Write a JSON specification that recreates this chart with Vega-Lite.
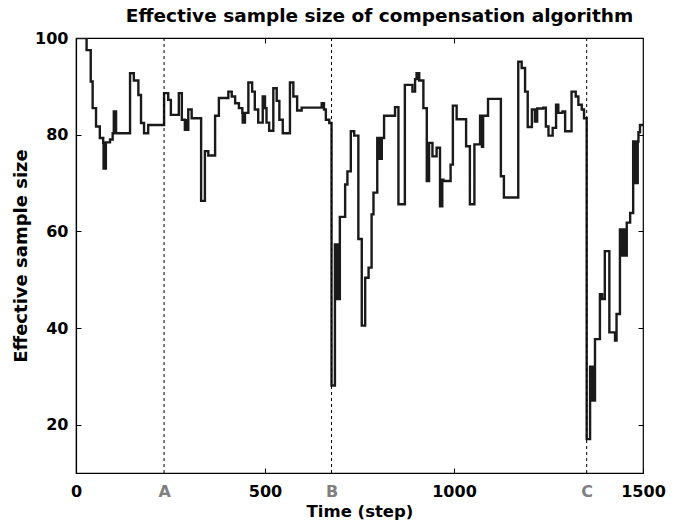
{
  "$schema": "https://vega.github.io/schema/vega-lite/v6.json",
  "width": 567,
  "height": 435,
  "autosize": {"type": "none"},
  "padding": {"left": 76, "top": 38, "right": 40, "bottom": 53},
  "background": "white",
  "config": {
    "view": {"stroke": "black", "strokeWidth": 1.2},
    "font": "DejaVu Sans",
    "axis": {"grid": false, "domainColor": "black", "tickColor": "black", "labelColor": "black", "titleColor": "black"}
  },
  "title": {"text": "Effective sample size of compensation algorithm", "fontSize": 18.5, "fontWeight": "bold", "font": "DejaVu Sans", "offset": 5, "dx": 20, "color": "black"},
  "datasets": {
    "ess": [
      {"t": 0, "v": 100}, {"t": 28, "v": 97.5}, {"t": 39, "v": 91}, {"t": 44, "v": 85.5}, {"t": 53, "v": 81.7},
      {"t": 63, "v": 79.3}, {"t": 72, "v": 78.3}, {"t": 73, "v": 73}, {"t": 74, "v": 78.3}, {"t": 75, "v": 73},
      {"t": 76, "v": 78.3}, {"t": 77, "v": 73}, {"t": 79, "v": 78.4}, {"t": 90, "v": 79}, {"t": 97, "v": 80.3},
      {"t": 100, "v": 84.8}, {"t": 101, "v": 80.3}, {"t": 102, "v": 84.8}, {"t": 103, "v": 80.3}, {"t": 104, "v": 84.8},
      {"t": 106, "v": 80.3}, {"t": 143, "v": 92.7}, {"t": 153, "v": 91.2}, {"t": 165, "v": 88.2}, {"t": 172, "v": 82.4},
      {"t": 180, "v": 80.3}, {"t": 191, "v": 82}, {"t": 233, "v": 88.6}, {"t": 244, "v": 87.2}, {"t": 251, "v": 84.1},
      {"t": 272, "v": 88.6}, {"t": 280, "v": 83.1}, {"t": 288, "v": 81}, {"t": 290, "v": 83}, {"t": 292, "v": 81},
      {"t": 297, "v": 85.2}, {"t": 306, "v": 83.4}, {"t": 331, "v": 66.3}, {"t": 341, "v": 76.6}, {"t": 350, "v": 75.7},
      {"t": 368, "v": 83.9}, {"t": 378, "v": 87.6}, {"t": 403, "v": 88.9}, {"t": 412, "v": 87.9}, {"t": 421, "v": 86.5},
      {"t": 431, "v": 85.5}, {"t": 440, "v": 84.5}, {"t": 441, "v": 82.5}, {"t": 443, "v": 84.5}, {"t": 445, "v": 82.5},
      {"t": 447, "v": 84.5}, {"t": 456, "v": 90.8}, {"t": 466, "v": 88.9}, {"t": 473, "v": 85.2}, {"t": 482, "v": 82.5},
      {"t": 494, "v": 87.9}, {"t": 500, "v": 85.5}, {"t": 504, "v": 82.5}, {"t": 511, "v": 80.8}, {"t": 522, "v": 89.6},
      {"t": 531, "v": 87}, {"t": 538, "v": 83.1}, {"t": 547, "v": 80.3}, {"t": 566, "v": 90.8}, {"t": 575, "v": 87.9},
      {"t": 585, "v": 85}, {"t": 597, "v": 85.6}, {"t": 650, "v": 86.5}, {"t": 656, "v": 85.2}, {"t": 661, "v": 83.1},
      {"t": 670, "v": 82.4}, {"t": 676, "v": 28.1}, {"t": 685, "v": 57.3}, {"t": 687, "v": 46}, {"t": 689, "v": 57.3},
      {"t": 691, "v": 46}, {"t": 693, "v": 57.3}, {"t": 695, "v": 46}, {"t": 698, "v": 63}, {"t": 712, "v": 69.7},
      {"t": 718, "v": 72.4}, {"t": 727, "v": 80.7}, {"t": 736, "v": 79.8}, {"t": 747, "v": 58.4}, {"t": 756, "v": 40.5},
      {"t": 765, "v": 50.4}, {"t": 774, "v": 52.5}, {"t": 782, "v": 63.5}, {"t": 787, "v": 68}, {"t": 797, "v": 79.3},
      {"t": 799, "v": 75}, {"t": 801, "v": 79.3}, {"t": 803, "v": 75}, {"t": 805, "v": 79.3}, {"t": 807, "v": 75},
      {"t": 809, "v": 79.3}, {"t": 815, "v": 83.9}, {"t": 844, "v": 85.7}, {"t": 853, "v": 65.6}, {"t": 870, "v": 90.3},
      {"t": 890, "v": 88.9}, {"t": 897, "v": 91.5}, {"t": 901, "v": 92.7}, {"t": 903, "v": 91.5}, {"t": 905, "v": 92.7},
      {"t": 908, "v": 91.2}, {"t": 919, "v": 85.5}, {"t": 928, "v": 70.4}, {"t": 930, "v": 78}, {"t": 932, "v": 70.4},
      {"t": 934, "v": 78.3}, {"t": 943, "v": 75.5}, {"t": 954, "v": 77.3}, {"t": 963, "v": 65.2}, {"t": 965, "v": 70.7},
      {"t": 967, "v": 65.2}, {"t": 969, "v": 70.7}, {"t": 972, "v": 70.4}, {"t": 991, "v": 73.8}, {"t": 997, "v": 86},
      {"t": 1007, "v": 83.2}, {"t": 1032, "v": 77.6}, {"t": 1042, "v": 65.6}, {"t": 1054, "v": 78}, {"t": 1069, "v": 83.9},
      {"t": 1074, "v": 77.5}, {"t": 1077, "v": 83.9}, {"t": 1090, "v": 87.4}, {"t": 1124, "v": 71.4}, {"t": 1132, "v": 67},
      {"t": 1170, "v": 95.1}, {"t": 1179, "v": 93.8}, {"t": 1188, "v": 88.9}, {"t": 1195, "v": 81.6}, {"t": 1206, "v": 85.2},
      {"t": 1214, "v": 82.7}, {"t": 1220, "v": 85.4}, {"t": 1236, "v": 85.6}, {"t": 1243, "v": 81.7}, {"t": 1250, "v": 79.8},
      {"t": 1261, "v": 81.4}, {"t": 1270, "v": 86.2}, {"t": 1272, "v": 84.5}, {"t": 1274, "v": 86.2}, {"t": 1276, "v": 84.5},
      {"t": 1287, "v": 84.8}, {"t": 1294, "v": 80.7}, {"t": 1311, "v": 88.9}, {"t": 1322, "v": 87.9}, {"t": 1329, "v": 86.2},
      {"t": 1338, "v": 85.2}, {"t": 1344, "v": 83.4}, {"t": 1351, "v": 17}, {"t": 1360, "v": 32}, {"t": 1362, "v": 25},
      {"t": 1364, "v": 32}, {"t": 1366, "v": 25}, {"t": 1368, "v": 32}, {"t": 1370, "v": 25}, {"t": 1373, "v": 37.7},
      {"t": 1386, "v": 47}, {"t": 1388, "v": 46}, {"t": 1390, "v": 47}, {"t": 1392, "v": 46}, {"t": 1399, "v": 55.9},
      {"t": 1411, "v": 39.1}, {"t": 1426, "v": 37.4}, {"t": 1430, "v": 42.9}, {"t": 1439, "v": 60.4}, {"t": 1443, "v": 55},
      {"t": 1445, "v": 60.4}, {"t": 1447, "v": 55}, {"t": 1449, "v": 60.4}, {"t": 1451, "v": 55}, {"t": 1453, "v": 60.4},
      {"t": 1455, "v": 55}, {"t": 1457, "v": 61.8}, {"t": 1466, "v": 63.8}, {"t": 1474, "v": 78.6}, {"t": 1476, "v": 70},
      {"t": 1478, "v": 78.6}, {"t": 1480, "v": 70}, {"t": 1482, "v": 78.6}, {"t": 1484, "v": 70}, {"t": 1486, "v": 78.6},
      {"t": 1488, "v": 80.5}, {"t": 1492, "v": 82}, {"t": 1500, "v": 82}
    ],
    "marks": [
      {"t": 233, "label": "A"}, {"t": 676, "label": "B"}, {"t": 1351, "label": "C"}
    ]
  },
  "resolve": {"axis": {"x": "independent", "y": "independent"}},
  "layer": [
    {
      "data": {"name": "ess"},
      "mark": {"type": "line", "interpolate": "step-after", "color": "#1a1a1a", "strokeWidth": 2.4, "clip": true},
      "encoding": {
        "x": {
          "field": "t", "type": "quantitative",
          "scale": {"domain": [0, 1500], "nice": false, "zero": false},
          "axis": {
            "title": "Time (step)", "titleFontSize": 16.5, "titleFontWeight": "bold", "titlePadding": 4,
            "values": [0, 233, 500, 676, 1000, 1351, 1500], "format": "d",
            "labelExpr": "datum.value == 233 ? 'A' : datum.value == 676 ? 'B' : datum.value == 1351 ? 'C' : datum.label",
            "labelFontSize": 16, "labelFontWeight": "bold", "labelFlush": false, "labelOverlap": false,
            "labelColor": {"condition": {"test": "datum.value == 233 || datum.value == 676 || datum.value == 1351", "value": "#808080"}, "value": "black"},
            "tickColor": {"condition": {"test": "datum.value == 233 || datum.value == 676 || datum.value == 1351", "value": "transparent"}, "value": "black"},
            "tickSize": -5, "labelPadding": 15, "domainWidth": 1.2
          }
        },
        "y": {
          "field": "v", "type": "quantitative",
          "scale": {"domain": [10, 100], "nice": false, "zero": false},
          "axis": {
            "title": "Effective sample size", "titleFontSize": 18, "titleFontWeight": "bold", "titlePadding": 4,
            "values": [20, 40, 60, 80, 100],
            "labelFontSize": 16, "labelFontWeight": "bold", "labelFlush": false,
            "tickSize": -5, "labelPadding": 13, "domainWidth": 1.2
          }
        }
      }
    },
    {
      "data": {"name": "marks"},
      "mark": {"type": "rule", "color": "black", "strokeWidth": 1, "strokeDash": [3, 3]},
      "encoding": {
        "x": {
          "field": "t", "type": "quantitative",
          "axis": {"orient": "top", "values": [500, 1000], "labels": false, "domain": false, "title": null, "tickSize": -5}
        },
        "y": {"datum": 100, "type": "quantitative",
          "axis": {"orient": "right", "values": [20, 40, 60, 80], "labels": false, "domain": false, "title": null, "tickSize": -5}},
        "y2": {"datum": 10}
      }
    }
  ]
}
